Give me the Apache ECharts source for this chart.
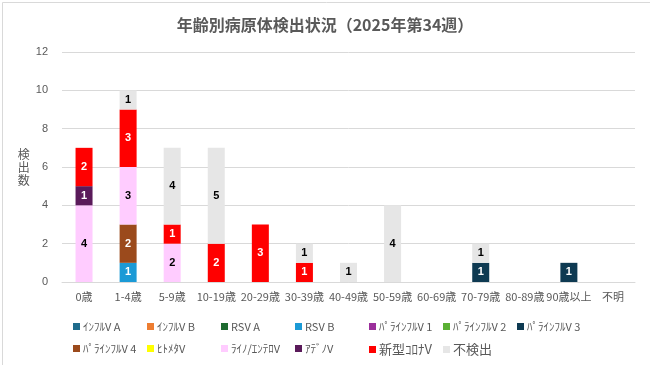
<!DOCTYPE html>
<html>
<head>
<meta charset="utf-8">
<script src="https://cdn.jsdelivr.net/npm/echarts@6/dist/echarts.min.js"></script>
<style>
html,body{margin:0;padding:0;background:#fff;}
#c{width:650px;height:365px;}
</style>
</head>
<body>
<div id="c"></div>
<script>
var categories = ['0歳','1-4歳','5-9歳','10-19歳','20-29歳','30-39歳','40-49歳','50-59歳','60-69歳','70-79歳','80-89歳','90歳以上','不明'];
var seriesNames = ['ｲﾝﾌﾙV A','ｲﾝﾌﾙV B','RSV A','RSV B','ﾊﾟﾗｲﾝﾌﾙV 1','ﾊﾟﾗｲﾝﾌﾙV 2','ﾊﾟﾗｲﾝﾌﾙV 3','ﾊﾟﾗｲﾝﾌﾙV 4','ﾋﾄﾒﾀV','ﾗｲﾉ/ｴﾝﾃﾛV','ｱﾃﾞﾉV','新型ｺﾛﾅV','不検出'];
var fluA      = [0,0,0,0,0,0,0,0,0,0,0,0,0];
var fluB      = [0,0,0,0,0,0,0,0,0,0,0,0,0];
var rsvA      = [0,0,0,0,0,0,0,0,0,0,0,0,0];
var rsvB      = [0,1,0,0,0,0,0,0,0,0,0,0,0];
var para1     = [0,0,0,0,0,0,0,0,0,0,0,0,0];
var para2     = [0,0,0,0,0,0,0,0,0,0,0,0,0];
var para3     = [0,0,0,0,0,0,0,0,0,1,0,1,0];
var para4     = [0,2,0,0,0,0,0,0,0,0,0,0,0];
var hmpv      = [0,0,0,0,0,0,0,0,0,0,0,0,0];
var rhino     = [4,3,2,0,0,0,0,0,0,0,0,0,0];
var adeno     = [1,0,0,0,0,0,0,0,0,0,0,0,0];
var covid     = [2,3,1,2,3,1,0,0,0,0,0,0,0];
var notFound  = [0,1,4,5,0,1,1,4,0,1,0,0,0];
var yTicks = [0,2,4,6,8,10,12];

var seriesData = [fluA,fluB,rsvA,rsvB,para1,para2,para3,para4,hmpv,rhino,adeno,covid,notFound];
var colors = ['#1F6C8C','#ED7D31','#1E6B30','#1B9AD6','#9B2F9B','#5AB034','#0E3A52','#9B4A1C','#FFFF00','#FFCCFF','#5A1A5A','#FF0000','#E6E6E6'];
var labelColors = ['#fff','#fff','#fff','#fff','#fff','#fff','#fff','#fff','#000','#000','#fff','#fff','#000'];

var series = seriesNames.map(function(n,i){
  return {
    name:n, type:'bar', stack:'s', barWidth:17,
    data: seriesData[i].map(function(v){return v===0?null:v;}),
    itemStyle:{color:colors[i]},
    label:{show:true, position:'inside', color:labelColors[i], fontSize:11, fontWeight:'bold', fontFamily:'Liberation Sans, Arial, sans-serif'},
    emphasis:{disabled:true}
  };
});

var legends = seriesNames.map(function(n,i){
  var row = i<7?0:1, col = i<7?i:i-7;
  var big = (n==='新型ｺﾛﾅV'||n==='不検出');
  return {
    data:[n], left:68+col*74, top: row===0?316:338,
    icon:'rect', itemWidth:7, itemHeight:7, itemGap:3,
    textStyle:{color:'#595959', fontSize: big?13:11, fontFamily:'"Noto Sans CJK JP", sans-serif', padding:[0,0,0,-2]},
    selectedMode:false
  };
});

var chart = echarts.init(document.getElementById('c'), null, {renderer:'canvas'});
chart.setOption({
  animation:false,
  backgroundColor:'#fff',
  title:{text:'年齢別病原体検出状況（2025年第34週）', left:'center', top:12,
    textStyle:{color:'#595959', fontSize:16, fontWeight:'bold', fontFamily:'"Noto Sans CJK JP", sans-serif'}},
  graphic:[{type:'rect', left:0, top:0, shape:{x:0.5,y:0.5,width:648,height:363}, style:{fill:'none', stroke:'#d9d9d9', lineWidth:1}}],
  legend: legends,
  grid:{left:62, right:15, top:52, bottom:83},
  xAxis:{type:'category', data:categories,
    axisLine:{lineStyle:{color:'#d9d9d9'}}, axisTick:{show:false},
    axisLabel:{color:'#595959', fontSize:11, interval:0, margin:9, fontFamily:'"Noto Sans CJK JP", sans-serif'}},
  yAxis:{type:'value', min:yTicks[0], max:yTicks[yTicks.length-1], interval:2,
    name:'検\n出\n数', nameLocation:'middle', nameRotate:0, nameGap:31,
    nameTextStyle:{color:'#595959', fontSize:12, lineHeight:13, fontFamily:'"Noto Sans CJK JP", sans-serif'},
    axisLine:{show:false}, axisTick:{show:false},
    axisLabel:{color:'#595959', fontSize:11, margin:14, fontFamily:'Liberation Sans, Arial, sans-serif'},
    splitLine:{lineStyle:{color:'#d9d9d9'}}},
  series: series
});
</script>
</body>
</html>
